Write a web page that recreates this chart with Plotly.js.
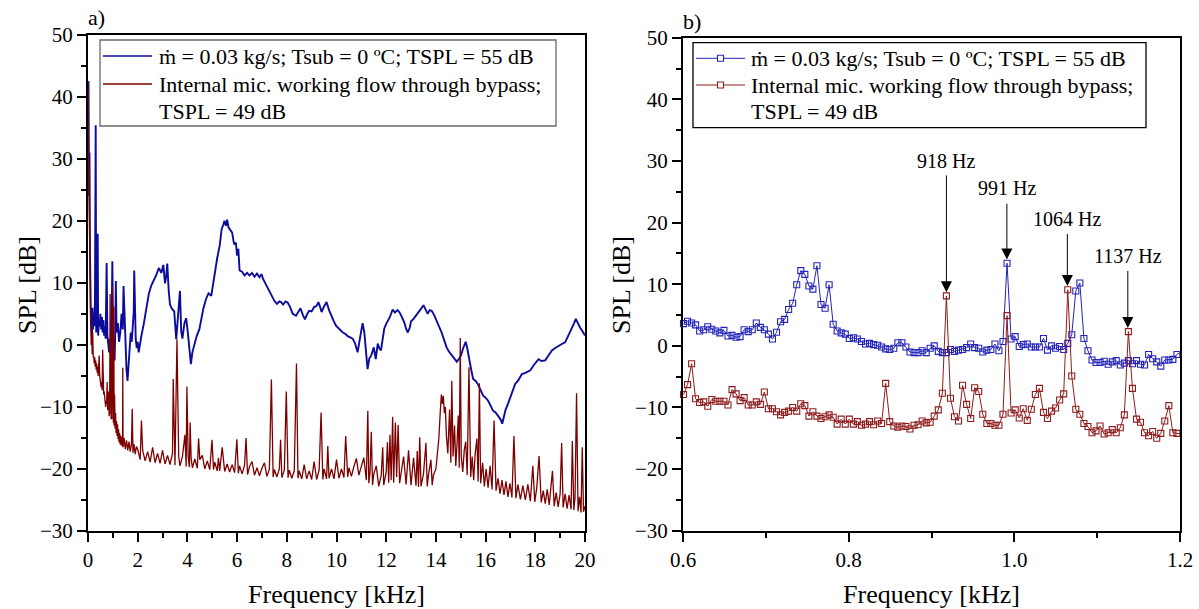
<!DOCTYPE html>
<html><head><meta charset="utf-8">
<script src="https://cdn.plot.ly/plotly-3.0.1.min.js"></script>
<style>html,body{margin:0;padding:0;background:#fff}#chart{width:1199px;height:609px}</style>
</head><body><div id="chart"></div>
<script>
// ---- Panel a) : full spectrum 0-20 kHz ----
const wideBlueFreq = [
0,0.02,0.04,0.06,0.08,0.10,0.12,0.14,0.16,0.18,
0.20,0.22,0.25,0.28,0.31,0.33,0.36,0.39,0.41,0.44,
0.47,0.50,0.53,0.56,0.59,0.62,0.65,0.68,0.71,0.75,
0.78,0.82,0.85,0.88,0.91,0.95,0.98,1.01,1.04,1.07,
1.10,1.12,1.15,1.20,1.25,1.30,1.35,1.40,1.43,1.50,
1.55,1.59,1.63,1.67,1.72,1.76,1.80,1.84,1.86,1.88,
1.92,1.96,2.00,2.04,2.08,2.15,2.25,2.35,2.45,2.55,
2.65,2.75,2.85,2.95,3.03,3.10,3.15,3.19,3.25,3.30,
3.38,3.47,3.55,3.62,3.70,3.75,3.80,3.88,3.95,4.02,
4.08,4.14,4.20,4.28,4.38,4.48,4.55,4.65,4.75,4.85,
4.96,5.05,5.10,5.20,5.30,5.38,5.45,5.49,5.55,5.60,
5.65,5.72,5.80,5.88,5.95,6.00,6.05,6.10,6.20,6.30,
6.40,6.50,6.60,6.70,6.80,6.90,6.98,7.05,7.15,7.30,
7.40,7.50,7.60,7.70,7.77,7.85,7.95,8.04,8.12,8.24,
8.37,8.45,8.55,8.65,8.73,8.82,8.90,9.00,9.10,9.20,
9.27,9.35,9.40,9.50,9.60,9.70,9.78,9.88,9.98,10.10,
10.25,10.35,10.45,10.55,10.65,10.75,10.85,10.92,11.00,11.05,
11.12,11.18,11.25,11.32,11.40,11.50,11.58,11.66,11.72,11.79,
11.85,11.92,12.00,12.06,12.15,12.26,12.35,12.45,12.53,12.62,
12.73,12.80,12.87,12.95,13.00,13.10,13.20,13.30,13.40,13.50,
13.58,13.67,13.75,13.83,13.93,14.03,14.13,14.23,14.33,14.43,
14.53,14.64,14.74,14.84,14.92,15.01,15.10,15.20,15.26,15.33,
15.42,15.50,15.60,15.70,15.80,15.90,16.00,16.10,16.20,16.30,
16.40,16.50,16.60,16.67,16.72,16.80,16.90,16.99,17.10,17.19,
17.30,17.46,17.60,17.80,17.95,18.13,18.25,18.40,18.55,18.67,
18.80,18.94,19.05,19.20,19.30,19.40,19.47,19.55,19.63,19.70,
19.80,19.90,20.00];
const wideBlueSPL = [
30,42.5,27,31,15,8,3,5.5,1,6,
2.5,5,3,7,35.4,2,4.5,17.9,1.5,4,
3,5,2.5,4.5,2,4,1.5,3,1,13.2,
1.5,0,-1.2,1,-0.5,3,13.5,1,-1,-2.5,
3,10.3,2,3.5,0.5,2,5,2.5,9.5,-1,
-4,-5.8,-3,0,2,0.5,4,5.3,12,5,
1,-0.5,0.5,-1.2,0,1.5,3.5,6.2,8.3,9.6,
10.4,11.3,12.4,11.6,12.9,9.9,11.2,13.1,8.6,6.5,
5.8,5.4,0.9,4.0,8.7,2.2,1.0,3.5,4.3,1.9,
-0.5,-3.1,-1.2,0.0,1.5,2.5,4.2,6.0,7.4,8.3,
7.9,10.2,11.7,14,16.0,18.7,19.4,20.0,19.2,20.2,
19,18.5,18.1,16.2,16.5,14.4,15.5,12.0,11.8,11.2,
11.6,11.2,11.6,11.0,11.5,10.9,11.4,10.6,9.8,8.7,
7.8,7.1,6.6,7.0,6.9,6.5,7.0,6.8,6.2,5.0,
4.7,5.3,5.9,4.8,4.1,5.0,5.5,5.4,6.1,6.3,
6.9,6.0,5.3,6.2,6.9,5.6,4.7,3.9,3.1,2.6,
2.0,1.8,1.4,1.2,1.0,0.2,-1.2,0.5,2.5,3.5,
2.0,-1,-3.9,-2.2,-1.7,-0.4,-2.3,0.2,-0.5,-0.9,
1,2.6,3.4,3.9,4.5,5.7,5.2,5.6,5.3,4.6,
3.6,2.6,2.0,2.8,3.8,4.2,4.7,5.2,5.8,6.4,
5.6,5.0,5.6,5.5,4.8,3.9,3.0,2.0,0.8,-0.4,
-1.1,-1.7,-2.3,-2.7,-2.3,-1.7,-0.5,0.5,-0.5,-2.3,
-4,-5.5,-5.8,-6.4,-7.2,-8.2,-8.5,-9.0,-9.8,-10.6,
-10.9,-11.4,-12.0,-12.7,-11.6,-10.5,-9.5,-8.4,-7.3,-6.3,
-5.8,-4.7,-4.5,-4.1,-3.2,-2.3,-2.6,-2.5,-1.6,-0.9,
-0.5,-0.1,0.1,0.4,1.2,2,2.6,3.4,4.2,3.6,
2.8,2.2,1.5];

const wideRedFreq = [
0.00,0.01,0.02,0.03,0.05,0.07,0.09,0.11,0.13,0.15,
0.17,0.19,0.21,0.23,0.25,0.27,0.29,0.31,0.33,0.35,
0.37,0.39,0.41,0.43,0.45,0.47,0.49,0.51,0.53,0.55,
0.57,0.59,0.61,0.63,0.65,0.67,0.69,0.71,0.73,0.75,
0.77,0.79,0.81,0.83,0.85,0.87,0.89,0.90,0.92,0.93,
0.95,0.96,0.98,0.99,1.01,1.02,1.04,1.05,1.07,1.09,
1.11,1.13,1.15,1.17,1.19,1.21,1.23,1.25,1.27,1.29,
1.31,1.33,1.35,1.37,1.39,1.40,1.41,1.45,1.50,1.55,
1.60,1.65,1.70,1.75,1.78,1.81,1.85,1.90,1.95,2.00,
2.10,2.15,2.20,2.30,2.40,2.50,2.60,2.70,2.80,2.90,
3.00,3.10,3.20,3.30,3.40,3.43,3.50,3.58,3.65,3.70,
3.80,3.90,3.95,3.98,4.03,4.08,4.11,4.15,4.20,4.30,
4.40,4.45,4.50,4.60,4.70,4.80,4.90,4.99,5.05,5.10,
5.20,5.25,5.30,5.40,5.50,5.60,5.70,5.80,5.90,5.99,
6.05,6.10,6.20,6.30,6.36,6.42,6.50,6.60,6.70,6.80,
6.90,7.00,7.10,7.20,7.30,7.38,7.45,7.50,7.60,7.70,
7.75,7.80,7.90,7.98,8.05,8.10,8.20,8.30,8.39,8.45,
8.50,8.60,8.70,8.80,8.90,9.00,9.10,9.20,9.30,9.38,
9.45,9.50,9.60,9.65,9.70,9.80,9.90,10.00,10.10,10.20,
10.30,10.37,10.45,10.50,10.60,10.70,10.80,10.90,11.00,11.10,
11.20,11.26,11.30,11.35,11.40,11.45,11.50,11.60,11.70,11.80,
11.86,11.90,12.00,12.05,12.10,12.15,12.20,12.26,12.30,12.37,
12.42,12.48,12.54,12.60,12.70,12.80,12.90,13.00,13.10,13.20,
13.25,13.30,13.35,13.40,13.50,13.60,13.65,13.70,13.80,13.85,
13.90,14.00,14.06,14.12,14.18,14.22,14.26,14.30,14.34,14.38,
14.42,14.48,14.55,14.60,14.64,14.69,14.75,14.80,14.85,14.90,
14.94,14.98,15.02,15.08,15.14,15.20,15.26,15.33,15.40,15.46,
15.52,15.58,15.65,15.70,15.75,15.80,15.88,15.95,16.02,16.10,
16.18,16.26,16.34,16.42,16.50,16.58,16.66,16.74,16.82,16.90,
16.98,17.06,17.14,17.22,17.30,17.40,17.50,17.60,17.70,17.80,
17.90,17.98,18.06,18.15,18.24,18.32,18.40,18.48,18.56,18.62,
18.69,18.76,18.84,18.92,19.00,19.06,19.12,19.20,19.28,19.36,
19.44,19.49,19.55,19.60,19.66,19.72,19.78,19.84,19.89,19.94,
20.00];
const wideRedSPL = [
42.5,40,24,30,22,12,6,3,0,1.5,
-1.5,2,-2,-1.8,-3,-2,-3.5,-2.5,-4,-3,
-4.5,-3.5,-5,-4,-1.7,-5,-6,-5.5,-6.8,-6,
-7.3,-0.8,-7.5,-8,-7.5,-9,-8.5,-10,-9,-9.5,
-6,-10.5,-10,-7.5,-11.5,-11,8.2,-11.5,-6,-12,
2,-12,9.4,-12.5,-4,-12.5,6.2,-13,-8,-13.5,
-11,-14.2,-12.3,-14.7,-12.8,-15.2,-13.6,-15.7,-14.2,-16.0,
-14.6,-16.2,-14.8,-15.2,-16.4,-3.7,-16.5,-15.0,-16.8,-15.4,
-17.0,-15.6,-17.2,-16.0,-10.3,-17.4,-16.0,-17.6,-16.4,-16.8,
-18.5,-12.2,-17.0,-18.7,-17.2,-18.9,-16.5,-19.0,-17.5,-19.1,
-17.0,-19.2,-17.8,-19.3,-17.5,-5.5,-19.4,0.9,-18.0,-19.5,
-18.0,-14.5,-19.6,-6.7,-18.0,-19.7,-12.5,-18.3,-19.8,-18.4,
-19.9,-15.1,-18.5,-17.8,-20.0,-18.7,-20.1,-15.3,-20.1,-18.9,
-20.3,-18.2,-20.3,-16.5,-20.4,-19.2,-20.5,-19.3,-20.6,-15.2,
-20.7,-19.5,-20.8,-19.4,-15.0,-20.9,-19.6,-18.8,-21.0,-19.8,
-21.1,-19.9,-19.0,-21.2,-20.0,-5.6,-21.3,-20.1,-21.3,-20.0,
-15.3,-21.4,-20.2,-7.5,-21.4,-20.2,-21.5,-20.3,-3.0,-21.5,
-20.3,-21.6,-19.3,-21.6,-20.3,-21.7,-18.8,-21.7,-20.2,-10.9,
-21.7,-20.0,-21.6,-16.3,-21.5,-20.0,-21.6,-18.5,-21.5,-20.0,
-21.4,-14.7,-21.3,-19.8,-21.2,-19.6,-18.3,-21.0,-19.4,-18.2,
-21.8,-10.6,-22.3,-20.5,-14.0,-22.6,-20.8,-19.5,-22.8,-21.0,
-16.5,-22.6,-20.5,-15.7,-22.2,-14.5,-21.8,-11.6,-22.2,-12.5,
-21.3,-12.9,-22.3,-20.6,-18.0,-22.5,-17.0,-22.6,-18.2,-22.7,
-17.1,-22.9,-14.9,-22.8,-20.8,-15.8,-22.8,-21.0,-18.5,-22.6,
-21.0,-20.0,-18,-15,-10.5,-8.0,-9.5,-8.2,-11,-10,
-14.5,-17.5,-10.4,-19,-5.8,-18,-13,-19.5,-16,-11.4,
-19.8,1.1,-18,-20.5,-17,-15.6,-21,-3.6,-21.3,-18,
-21.8,-17.5,-15.1,-22,-6.2,-22.3,-19,-22.8,-20,-23,
-19.5,-23.3,-12.2,-23.5,-21.5,-24,-21.8,-24.2,-22,-24.5,
-22.3,-24.6,-14.7,-24.7,-22.5,-24.9,-22.7,-25,-22.5,-25.2,
-19.5,-25.3,-23,-17.9,-25.4,-23.5,-25.6,-23.3,-25.8,-23.5,
-20.3,-26,-23.8,-26.1,-24,-15.8,-26.2,-24,-26.4,-24.2,
-26.5,-15.5,-26.6,-24.5,-7.8,-26.8,-24.5,-27,-16.5,-26.9,
-26];

// ---- Panel b) : zoom 0.6-1.2 kHz ----
const zoomFreq = [
0.6006,0.6055,0.6104,0.6152,0.6201,0.6250,0.6299,0.6348,0.6396,0.6445,
0.6494,0.6543,0.6592,0.6641,0.6689,0.6738,0.6787,0.6836,0.6885,0.6934,
0.6982,0.7031,0.7080,0.7129,0.7178,0.7227,0.7275,0.7324,0.7373,0.7422,
0.7471,0.7520,0.7568,0.7617,0.7666,0.7715,0.7764,0.7813,0.7861,0.7910,
0.7959,0.8008,0.8057,0.8105,0.8154,0.8203,0.8252,0.8301,0.8350,0.8398,
0.8447,0.8496,0.8545,0.8594,0.8643,0.8691,0.8740,0.8789,0.8838,0.8887,
0.8936,0.8984,0.9033,0.9082,0.9131,0.9180,0.9229,0.9277,0.9326,0.9375,
0.9424,0.9473,0.9521,0.9570,0.9619,0.9668,0.9717,0.9766,0.9814,0.9863,
0.9912,0.9961,1.0010,1.0059,1.0107,1.0156,1.0205,1.0254,1.0303,1.0352,
1.0400,1.0449,1.0498,1.0547,1.0596,1.0645,1.0693,1.0742,1.0791,1.0840,
1.0889,1.0938,1.0986,1.1035,1.1084,1.1133,1.1182,1.1230,1.1279,1.1328,
1.1377,1.1426,1.1475,1.1523,1.1572,1.1621,1.1670,1.1719,1.1768,1.1816,
1.1865,1.1914,1.1963,1.2012];
const zoomBlueSPL = [
3.6,4.0,3.7,3.4,2.4,2.6,3.1,2.7,2.4,2.1,
2.5,1.6,1.7,1.4,1.5,2.6,2.3,2.6,3.7,3.0,
2.6,1.9,1.1,2.2,3.9,4.3,5.9,6.9,9.9,12.2,
11.6,9.7,9.2,13.0,6.7,6.1,9.9,3.5,2.4,2.1,
1.9,1.2,1.3,1.1,0.7,0.3,0.4,0.2,0.1,-0.2,
-0.5,-0.6,-0.4,0.5,0.5,-0.2,-1.0,-1.1,-1.1,-0.8,
-1.1,-0.4,0.0,-0.9,-1.1,-1.1,-0.6,-0.9,-0.7,-0.6,
-0.3,0.3,-0.3,-0.4,-1.0,-0.7,-0.6,0.3,-0.8,0.7,
13.4,1.1,1.5,-0.1,0.2,0.3,-0.2,-0.2,-0.2,1.2,
-0.7,0.0,-0.4,-0.1,-0.6,0.4,1.8,8.9,10.2,1.2,
-0.8,-2.3,-2.7,-2.7,-2.5,-3.0,-2.6,-2.4,-3.1,-2.8,
-2.4,-2.9,-2.4,-3.0,-3.1,-1.4,-2.1,-2.6,-3.3,-2.3,
-2.3,-2.2,-1.4,-1.0];
const zoomRedSPL = [
-7.9,-6.3,-2.9,-8.6,-9.2,-9.1,-9.8,-8.7,-9.0,-9.0,
-9.0,-9.6,-7.1,-7.8,-8.9,-8.4,-9.6,-9.6,-9.1,-9.5,
-7.5,-10.2,-10.2,-10.7,-11.2,-10.8,-10.6,-10.0,-10.6,-9.4,
-9.7,-11.4,-10.7,-11.4,-11.8,-11.5,-11.2,-11.6,-12.7,-11.9,
-12.7,-11.9,-12.7,-12.3,-12.9,-12.7,-12.3,-12.8,-12.2,-12.6,
-6.1,-12.3,-13.0,-13.2,-13.0,-13.1,-13.5,-12.9,-12.8,-12.2,
-12.5,-12.4,-11.4,-10.4,-7.7,8.1,-8.5,-11.5,-12.2,-6.4,
-9.5,-11.8,-6.8,-7.4,-11.1,-12.6,-12.6,-12.9,-12.9,-11.1,
4.9,-10.9,-10.4,-11.7,-10.2,-12.1,-10.3,-7.9,-6.9,-10.8,
-11.8,-10.6,-10.1,-8.8,-7.8,9.1,-4.9,-10.3,-11.1,-12.6,
-13.1,-14.1,-13.8,-13.0,-14.3,-14.1,-13.6,-14.1,-13.3,-11.2,
2.3,-6.9,-11.9,-12.4,-14.1,-14.6,-13.9,-15.0,-14.2,-12.2,
-9.7,-14.1,-14.2,-14.3];

// peak labels (Hz) with label height, arrow tail and arrow tip (dB)
const peakFreqHz   = [918, 991, 1064, 1137];
const peakLabelSPL = [30.0, 25.6, 20.6, 14.5];
const peakTailSPL  = [27.9, 23.3, 18.4, 12.4];
const peakTipSPL   = [8.7, 14.0, 9.7, 2.9];

const legendLines = ['m\u0307 = 0.03 kg/s; Tsub = 0 \u00baC; TSPL = 55 dB',
                     'Internal mic. working flow through bypass;', 'TSPL = 49 dB'];
const seriesNames = [legendLines[0], legendLines[1] + ' ' + legendLines[2]];
const blueA = '#0b0b9e', redA = '#7d0000', blueB = '#2424b8', redB = '#8e1c1c';
const FONT = 'Liberation Serif';

const traces = [
  {x: wideBlueFreq, y: wideBlueSPL, xaxis:'x', yaxis:'y', type:'scatter', mode:'lines',
   name: seriesNames[0], line:{color:blueA, width:1.9}, showlegend:false},
  {x: wideRedFreq, y: wideRedSPL, xaxis:'x', yaxis:'y', type:'scatter', mode:'lines',
   name: seriesNames[1], line:{color:redA, width:1.3}, showlegend:false},
  {x: zoomFreq, y: zoomBlueSPL, xaxis:'x2', yaxis:'y2', type:'scatter', mode:'lines+markers',
   name: seriesNames[0], line:{color:blueB, width:1}, cliponaxis:false, showlegend:false,
   marker:{symbol:'square-open', size:6, color:blueB, line:{width:1.1, color:blueB}}},
  {x: zoomFreq, y: zoomRedSPL, xaxis:'x2', yaxis:'y2', type:'scatter', mode:'lines+markers',
   name: seriesNames[1], line:{color:redB, width:1}, cliponaxis:false, showlegend:false,
   marker:{symbol:'square-open', size:6, color:redB, line:{width:1.1, color:redB}}}
];

const dA = [88/1199, 585/1199], dAy = [78/609, 574.3/609];
const dB = [683/1199, 1180/1199], dBy = [78.3/609, 571.3/609];

function mainX(domain, range, extra) {
  return Object.assign({domain, range, autorange:false, showgrid:false, zeroline:false,
    showline:true, linecolor:'black', linewidth:2, mirror:true,
    ticks:'outside', ticklen:9, tickwidth:2, tickcolor:'black',
    tickfont:{size:21, family:FONT, color:'black'},
    title:{text:'Frequency [kHz]', font:{size:26, family:FONT, color:'black'}, standoff:16}}, extra);
}
function mainY(domain, anchor) {
  return {domain, range:[-30,50], autorange:false, anchor, showgrid:false, zeroline:false,
    showline:true, linecolor:'black', linewidth:2, mirror:true,
    ticks:'outside', ticklen:9, tickwidth:2, tickcolor:'black', dtick:10, tick0:0,
    minor:{dtick:5, ticks:'outside', ticklen:5, tickwidth:2, tickcolor:'black'},
    tickfont:{size:21, family:FONT, color:'black'}};
}
function innerAxis(extra) {
  return Object.assign({autorange:false, showgrid:false, zeroline:false, showline:false,
    showticklabels:false, ticks:'inside', tickwidth:2, tickcolor:'black'}, extra);
}

// pixel -> paper helpers for the legend boxes and labels
const PX = v => v / 1199, PY = v => (609 - v) / 609;

const annotations = [
  {xref:'paper', yref:'paper', x:PX(86), y:PY(18), xanchor:'left', yanchor:'middle',
   text:'a)', showarrow:false, font:{size:22, family:FONT, color:'black'}},
  {xref:'paper', yref:'paper', x:PX(681), y:PY(22), xanchor:'left', yanchor:'middle',
   text:'b)', showarrow:false, font:{size:22, family:FONT, color:'black'}},
  {xref:'paper', yref:'paper', x:PX(27), y:PY(285), xanchor:'center', yanchor:'middle', textangle:-90,
   text:'SPL [dB]', showarrow:false, font:{size:26, family:FONT, color:'black'}},
  {xref:'paper', yref:'paper', x:PX(621), y:PY(285), xanchor:'center', yanchor:'middle', textangle:-90,
   text:'SPL [dB]', showarrow:false, font:{size:26, family:FONT, color:'black'}}
];
peakFreqHz.forEach((f, i) => {
  annotations.push({xref:'x2', yref:'y2', x:f/1000, y:peakLabelSPL[i], text:f + ' Hz',
    showarrow:false, font:{size:20, family:FONT, color:'black'}, xanchor:'center', yanchor:'middle'});
  annotations.push({xref:'x2', yref:'y2', axref:'x2', ayref:'y2', x:f/1000, y:peakTipSPL[i],
    ax:f/1000, ay:peakTailSPL[i], text:'', showarrow:true, arrowhead:2, arrowsize:2.2,
    arrowwidth:1, arrowcolor:'black', standoff:0, startstandoff:0});
});

const shapes = [];
function addLegend(box, lineX, textX, rowsY, colors, border, markers) {
  shapes.push({type:'rect', xref:'paper', yref:'paper', x0:PX(box[0]), x1:PX(box[1]),
    y0:PY(box[3]), y1:PY(box[2]), line:{color:border, width:1.3}, fillcolor:'white', layer:'above'});
  [0, 1].forEach(k => {
    shapes.push({type:'line', xref:'paper', yref:'paper', x0:PX(lineX[0]), x1:PX(lineX[1]),
      y0:PY(rowsY[k]), y1:PY(rowsY[k]), line:{color:colors[k], width:markers ? 1 : 1.6}, layer:'above'});
    if (markers) {
      const cx = (lineX[0] + lineX[1]) / 2;
      shapes.push({type:'rect', xref:'paper', yref:'paper', x0:PX(cx-3), x1:PX(cx+3),
        y0:PY(rowsY[k]+3), y1:PY(rowsY[k]-3), line:{color:colors[k], width:1.1}, fillcolor:'white', layer:'above'});
    }
  });
  legendLines.forEach((t, k) => {
    annotations.push({xref:'paper', yref:'paper', x:PX(textX), y:PY(rowsY[k]), xanchor:'left',
      yanchor:'middle', text:t, showarrow:false, font:{size:22, family:FONT, color:'black'}});
  });
}
addLegend([100, 556, 40, 126], [103, 152], 157, [56, 84, 111], [blueA, redA], '#6a6a6a', false);
addLegend([693, 1146, 42.7, 127.7], [696, 745], 749, [58.3, 85, 111.7], [blueB, redB], 'black', true);

const layout = {
  width:1199, height:609, margin:{l:0, r:0, t:0, b:0},
  paper_bgcolor:'white', plot_bgcolor:'white',
  font:{family:FONT, size:20, color:'black'},
  showlegend:false,
  xaxis: mainX(dA, [0,20], {anchor:'y', dtick:2, tick0:0,
    minor:{dtick:1, ticks:'outside', ticklen:5, tickwidth:2, tickcolor:'black'}}),
  yaxis: mainY(dAy, 'x'),
  xaxis2: mainX(dB, [0.6,1.2], {anchor:'y2', tickmode:'array', tickvals:[0.6,0.8,1.0,1.2],
    ticktext:['0.6','0.8','1.0','1.2'],
    minor:{tickmode:'array', tickvals:[0.7,0.9,1.1], ticks:'outside', ticklen:5, tickwidth:2, tickcolor:'black'}}),
  yaxis2: mainY(dBy, 'x2'),
  xaxis3: innerAxis({overlaying:'x', anchor:'y', side:'top', range:[0,20], dtick:1, tick0:0, ticklen:5}),
  yaxis3: innerAxis({overlaying:'y', anchor:'x', side:'right', range:[-30,50], dtick:10, tick0:0, ticklen:9,
    minor:{dtick:5, ticks:'inside', ticklen:5, tickwidth:2, tickcolor:'black'}}),
  xaxis4: innerAxis({overlaying:'x2', anchor:'y2', side:'top', range:[0.6,1.2], tickmode:'array',
    tickvals:[0.7,0.8,0.9,1.0,1.1], ticklen:5}),
  yaxis4: innerAxis({overlaying:'y2', anchor:'x2', side:'right', range:[-30,50], dtick:10, tick0:0, ticklen:9,
    minor:{dtick:5, ticks:'inside', ticklen:5, tickwidth:2, tickcolor:'black'}}),
  shapes, annotations
};

Plotly.newPlot('chart', traces, layout, {displayModeBar:false, staticPlot:true});
</script>
</body></html>
